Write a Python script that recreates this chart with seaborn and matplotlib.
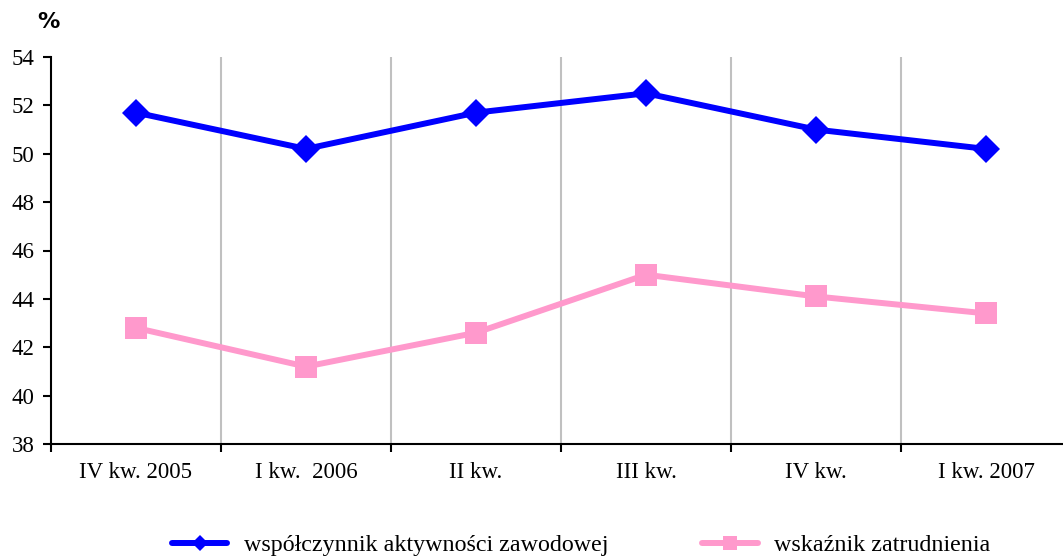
import matplotlib
matplotlib.use("Agg")
import matplotlib.pyplot as plt
import seaborn as sns
import pandas as pd
import numpy as np

categories = ["IV kw. 2005", "I kw.  2006", "II kw.", "III kw.", "IV kw.", "I kw. 2007"]
aktywnosc = [51.7, 50.2, 51.7, 52.5, 51.0, 50.2]
zatrudnienie = [42.8, 41.2, 42.6, 45.0, 44.1, 43.4]
name_a = "współczynnik aktywności zawodowej"
name_z = "wskaźnik zatrudnienia"
yticks = [38, 40, 42, 44, 46, 48, 50, 52, 54]

sns.set_style("white")
plt.rcParams['font.family'] = ['Liberation Serif', 'DejaVu Serif']
plt.rcParams['text.color'] = 'black'
plt.rcParams['xtick.color'] = 'black'
plt.rcParams['ytick.color'] = 'black'
plt.rcParams['axes.labelcolor'] = 'black'

fig = plt.figure(figsize=(10.63, 5.57), dpi=100)
ax = fig.add_axes([51/1063, 1-444/557, 1020/1063, (444-57)/557])

x = np.arange(len(categories))
df_a = pd.DataFrame({"x": x, "v": aktywnosc})
df_z = pd.DataFrame({"x": x, "v": zatrudnienie})

sns.lineplot(data=df_a, x="x", y="v", ax=ax, color="#0000ff", lw=4.3,
             marker="D", markersize=14, markeredgewidth=0, label=name_a)
sns.lineplot(data=df_z, x="x", y="v", ax=ax, color="#ff99cc", lw=4.3,
             marker="s", markersize=16, markeredgewidth=0, label=name_z)

ax.set_xlim(-0.5, len(categories) - 0.5)
ax.set_ylim(38, 54)
ax.set_yticks(yticks)
ax.set_yticklabels([str(t) for t in yticks], fontsize=16.5, color="black")
ax.set_xticks(x)
ax.set_xticklabels(categories, fontsize=16.5, color="black")
ax.tick_params(axis='x', which='major', length=0, pad=13)
ax.set_xticks(np.arange(-0.5, len(categories)), minor=True)
ax.tick_params(axis='x', which='minor', bottom=True, length=6, width=1.5, direction='out', color='black')
ax.tick_params(axis='y', left=True, length=6, width=1.5, direction='out', color='black', pad=6)
for xv in np.arange(0.5, len(categories) - 0.5):
    ax.axvline(xv, color="#c0c0c0", lw=1.5, zorder=0)

ax.set_xlabel("")
ax.set_ylabel("")
for s in ["top", "right"]:
    ax.spines[s].set_visible(False)
for s in ["left", "bottom"]:
    ax.spines[s].set_color("black")
    ax.spines[s].set_linewidth(1.5)

fig.text(37/1063, 1-22/557, "%", fontsize=16, fontweight="bold", family="DejaVu Sans",
         ha="left", va="center", color="black")

leg = ax.legend(loc="center left", ncol=2, frameon=False, fontsize=17.3,
                handlelength=2.3, handletextpad=0.7, columnspacing=3.9,
                borderpad=0, borderaxespad=0, markerscale=0.6)
for t in leg.get_texts():
    t.set_color("black")
leg.set_bbox_to_anchor((172/1063, 1-545/557), transform=fig.transFigure)

fig.savefig("out.png", dpi=100)
